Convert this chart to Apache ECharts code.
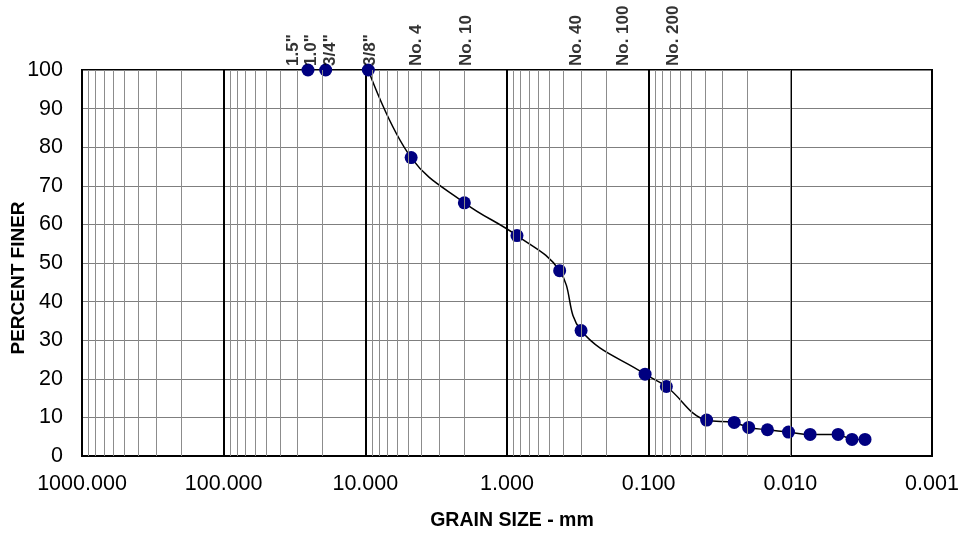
<!DOCTYPE html>
<html>
<head>
<meta charset="utf-8">
<script src="https://cdn.jsdelivr.net/npm/echarts@6/dist/echarts.min.js"></script>
<style>
html,body{margin:0;padding:0;background:#fff;}
#chart{width:961px;height:535px;}
</style>
</head>
<body>
<div id="chart"></div>
<script>
// Grain sizes (mm) and percent finer
const grainSize = [25.4, 19.05, 9.525, 4.75, 2.0, 0.85, 0.425, 0.30, 0.106, 0.075,
  0.0390, 0.0249, 0.0197, 0.0145, 0.0103, 0.00725, 0.00460, 0.00367, 0.00297];
const percentFiner = [100, 100, 100, 77.3, 65.6, 57.1, 48.0, 32.5, 21.2, 18.0,
  9.3, 8.7, 7.4, 6.8, 6.2, 5.6, 5.6, 4.3, 4.3];
// The first points lie on the 100% border; the curve is drawn from the 3/8" point on
const curveStart = 2;

// Sieve labels along the top and where they sit on the size axis
const sieveLabels = ['1.5"', '1.0"', '3/4"', '3/8"', 'No. 4', 'No. 10', 'No. 40', 'No. 100', 'No. 200'];
const sieveLabelPos = [32.3, 23.9, 17.8, 9.28, 4.35, 1.93, 0.323, 0.151, 0.0671];

// Axis setup
const xMin = 0.001, xMax = 1000;
const yTicks = [0, 10, 20, 30, 40, 50, 60, 70, 80, 90, 100];

// Minor log grid lines (2..9 within each decade)
const minorLines = [];
for (let e = -3; e < 3; e++) {
  for (let m = 2; m <= 9; m++) minorLines.push({ xAxis: m * Math.pow(10, e) });
}

const FONT = '"Liberation Sans", Arial, sans-serif';
const pts = grainSize.map((g, i) => [g, percentFiner[i]]);

const chart = echarts.init(document.getElementById('chart'), null, { renderer: 'canvas' });
chart.setOption({
  animation: false,
  backgroundColor: '#fff',
  grid: { left: 82, right: 29, top: 70, bottom: 79, show: true, borderColor: '#000', borderWidth: 2,
    backgroundColor: 'transparent', containLabel: false, outerBoundsMode: 'none' },
  xAxis: {
    type: 'log', logBase: 10, min: xMin, max: xMax, inverse: true, splitNumber: 6,
    name: 'GRAIN SIZE - mm', nameLocation: 'middle', nameGap: 55, nameMoveOverlap: false,
    nameTextStyle: { fontFamily: FONT, fontWeight: 'bold', fontSize: 19.5, color: '#000', padding: [0, 0, 0, 10] },
    axisLine: { show: true, lineStyle: { color: '#000', width: 2 } },
    axisTick: { show: false },
    axisLabel: { color: '#000', fontFamily: FONT, fontSize: 21.5, margin: 17, showMinLabel: true, showMaxLabel: true,
      formatter: v => Number(v).toFixed(3) },
    splitLine: { show: true, lineStyle: { color: '#000', width: 2 } },
    minorTick: { show: false }, minorSplitLine: { show: false }
  },
  yAxis: {
    type: 'value', min: 0, max: 100, interval: 10,
    name: 'PERCENT FINER', nameLocation: 'middle', nameGap: 54, nameRotate: 90, nameMoveOverlap: false,
    nameTextStyle: { fontFamily: FONT, fontWeight: 'bold', fontSize: 19, color: '#000', padding: [0, 30, 0, 0] },
    axisLine: { show: true, lineStyle: { color: '#000', width: 2 } },
    axisTick: { show: false },
    axisLabel: { color: '#000', fontFamily: FONT, fontSize: 21.5, margin: 19,
      formatter: v => (yTicks.indexOf(v) >= 0 ? String(v) : '') },
    splitLine: { show: true, lineStyle: { color: '#7f7f7f', width: 1 } }
  },
  series: [
    {
      type: 'line', data: [], z: 1, silent: true,
      markLine: {
        silent: true, symbol: 'none', animation: false,
        label: { show: false },
        lineStyle: { color: '#8c8c8c', width: 1, type: 'solid' },
        emphasis: { disabled: true },
        data: minorLines
      }
    },
    {
      type: 'line', z: 3,
      data: pts.slice(curveStart),
      smooth: 0.4,
      symbol: 'circle', symbolSize: 13,
      itemStyle: { color: '#000080' },
      lineStyle: { color: '#000', width: 1.5 }
    },
    {
      type: 'scatter', z: 3,
      data: pts.slice(0, curveStart),
      symbol: 'circle', symbolSize: 13,
      itemStyle: { color: '#000080', opacity: 1 }
    },
    {
      type: 'scatter', z: 4, silent: true, symbolSize: 0,
      data: sieveLabelPos.map((p, i) => ({ value: [p, 100], name: sieveLabels[i] })),
      label: {
        show: true, position: 'top', distance: 4, rotate: 90,
        align: 'left', verticalAlign: 'middle',
        formatter: p => p.name,
        fontFamily: FONT, fontWeight: 'bold', fontSize: 17, color: '#000'
      }
    }
  ]
});
</script>
</body>
</html>
